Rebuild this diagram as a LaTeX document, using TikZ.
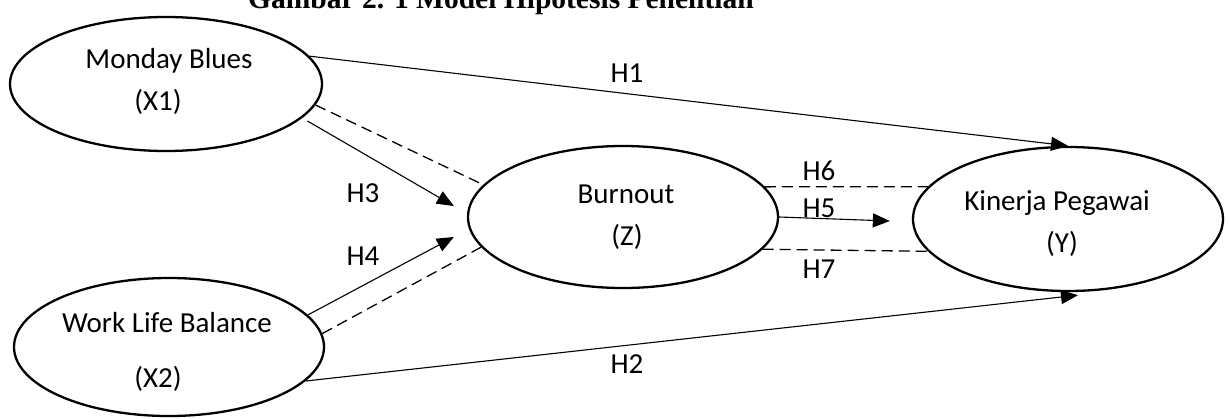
\documentclass[tikz,border=0pt]{standalone}
\usepackage{fontspec}
\setmainfont{Carlito}
\newfontfamily\titlefont{Liberation Serif}
\usetikzlibrary{arrows.meta,calc,shapes.geometric}

\begin{document}
\begin{tikzpicture}[x=1pt,y=-1pt,
  var/.style={draw,ellipse,line width=2.3pt,inner sep=0pt},
  txt/.style={anchor=base,inner sep=0pt,font=\fontsize{29}{34}\selectfont},
  effect/.style={line width=1.1pt,-{Triangle[length=17pt,width=14pt]}},
  mediation/.style={line width=1.3pt,dash pattern=on 11pt off 6pt},
]
\useasboundingbox (0,0) rectangle (1230,418);
\clip (0,0) rectangle (1230,418);

% caption (cut by the top edge)
\node[anchor=base west,inner sep=0pt,
      font=\titlefont\bfseries\fontsize{29.5}{34}\selectfont] (title) at (248,8)
  {Gambar 2. 1 Model Hipotesis Penelitian};

% latent variables
\node[var,minimum width=312pt,minimum height=134pt] (mb) at (166,84) {};
\node[var,minimum width=310pt,minimum height=138pt] (wl) at (169,347) {};
\node[var,minimum width=310pt,minimum height=142pt] (bo) at (623,217) {};
\node[var,minimum width=310pt,minimum height=144pt] (kp) at (1068,219) {};

% variable names
\node[txt] (mbname) at (169,68) {Monday Blues};
\node[txt] (mbcode) at (158,110) {(X1)};
\node[txt] (wlname) at (167,332) {Work Life Balance};
\node[txt] (wlcode) at (158,387) {(X2)};
\node[txt] (boname) at (626,203) {Burnout};
\node[txt] (bocode) at (627,245) {(Z)};
\node[txt] (kpname) at (1057,210) {Kinerja Pegawai};
\node[txt] (kpcode) at (1062,252) {(Y)};

% free ends of the arrows
\coordinate (t3) at ($(bo.west)+(-13,-11)$);
\coordinate (t4) at ($(bo.west)+(-13,20)$);
\coordinate (t5) at ($(kp.west)+(-22,2)$);
\coordinate (t2) at ($(kp.south)+(10,3)$);

% direct effects
\draw[effect] (mb.11.3) -- (kp.north);
\draw[effect] (wl.-14.3) -- (t2);
\draw[effect,shorten <=6pt] (mb.-14.8) -- (t3);
\draw[effect] (wl.13) -- (t4);
\draw[effect] (bo.east) -- (t5);

% mediated paths
\draw[mediation] (mb.-8.5) -- (bo.167.2);
\draw[mediation] (wl.5.6) -- (bo.192.2);
\draw[mediation] (bo.12.2) -- (kp.167.4);
\draw[mediation] (bo.-13.9) -- (kp.193.7);

% hypothesis labels
\node[txt] (h1) at (627,82) {H1};
\node[txt] (h2) at (627,373) {H2};
\node[txt] (h3) at (363,202) {H3};
\node[txt] (h4) at (363,265) {H4};
\node[txt] (h5) at (819,217) {H5};
\node[txt] (h6) at (819,180) {H6};
\node[txt] (h7) at (819,278) {H7};
\end{tikzpicture}
\end{document}
